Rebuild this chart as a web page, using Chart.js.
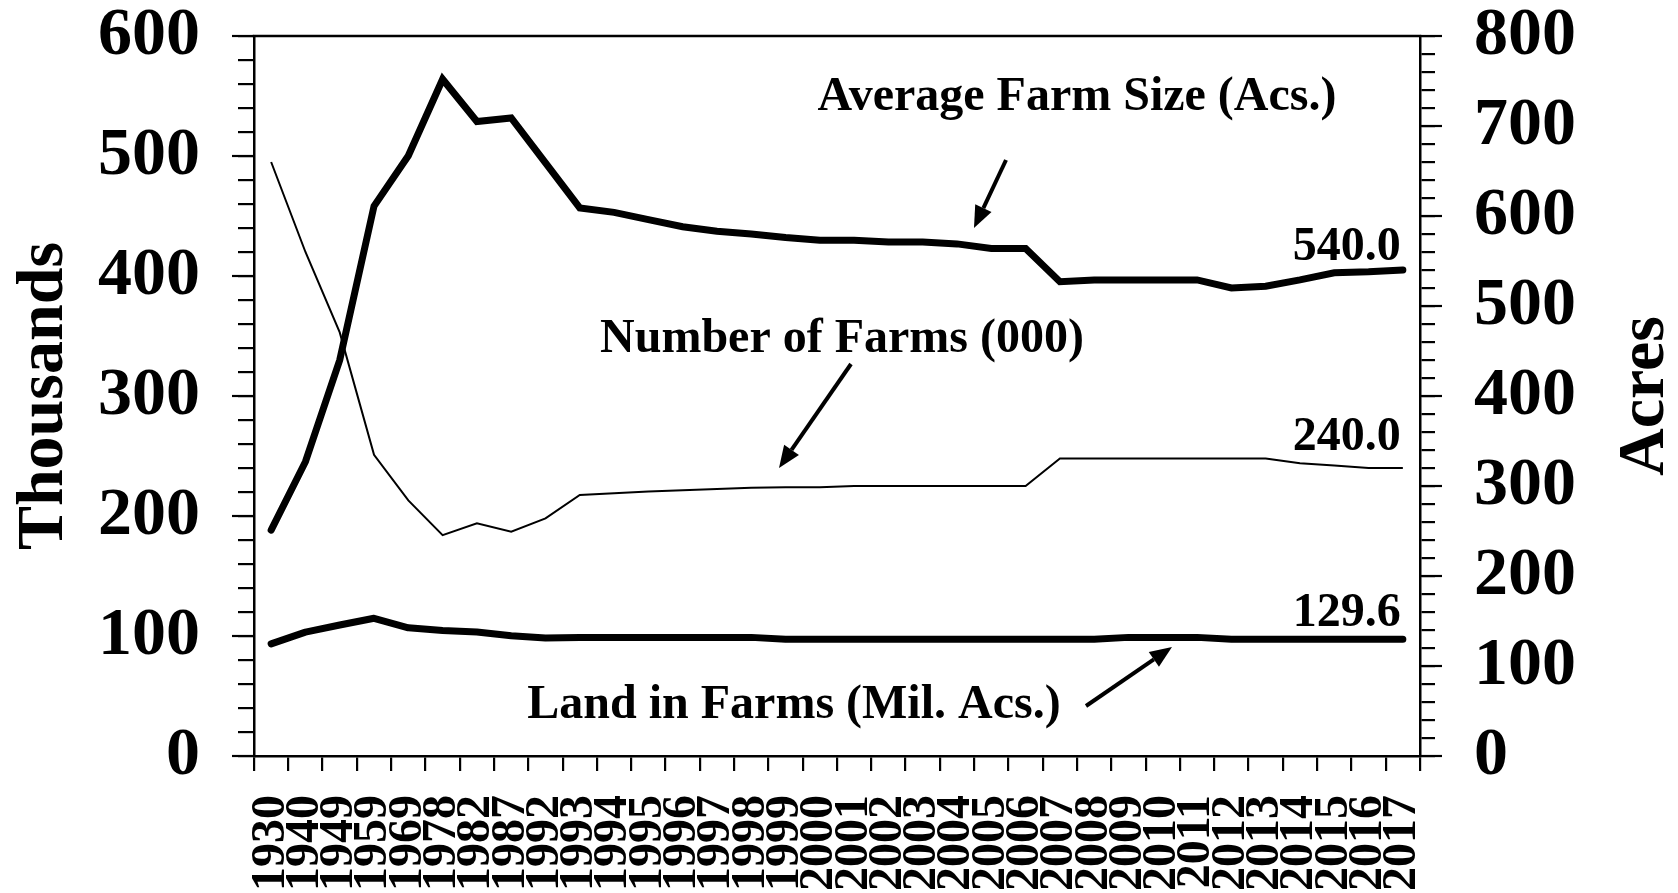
<!DOCTYPE html>
<html>
<head>
<meta charset="utf-8">
<script src="https://cdn.jsdelivr.net/npm/chart.js@4/dist/chart.umd.min.js"></script>
<style>
  html, body { margin: 0; padding: 0; background: #fff; }
  #wrap { width: 1678px; height: 893px; position: relative; }
</style>
</head>
<body>
<div id="wrap"><canvas id="c"></canvas></div>
<script>
// ---------------- data ----------------
const years = ['1930','1940','1949','1959','1969','1978','1982','1987','1992',
  '1993','1994','1995','1996','1997','1998','1999','2000','2001','2002','2003',
  '2004','2005','2006','2007','2008','2009','2010','2011','2012','2013','2014',
  '2015','2016','2017'];

// Average Farm Size (acres) - right axis
const avgFarmSize = [251, 327, 440, 611, 667, 752, 705, 709, 659,
  609, 604, 596, 588, 583, 580, 576, 573, 573, 571, 571,
  569, 564, 564, 527, 529, 529, 529, 529, 520, 522, 529,
  537, 538, 540];

// Number of Farms (000) - left axis
const numberOfFarms = [495, 420, 353, 251, 213, 184, 194, 187, 198,
  217.5, 219, 220.5, 221.5, 222.5, 223.5, 224, 224, 225, 225, 225,
  225, 225, 225, 248, 248, 248, 248, 248, 248, 248, 244,
  242, 240, 240];

// Land in Farms (Mil. Acs.) - right axis
const landInFarms = [124.6, 137.7, 145.5, 153, 142.4, 139.5, 137.7, 133.5, 131,
  131.8, 131.8, 131.8, 131.8, 131.8, 131.8, 129.6, 129.6, 129.6, 129.6, 129.6,
  129.6, 129.6, 129.6, 129.6, 129.6, 131.8, 131.8, 131.8, 129.6, 129.6, 129.6,
  129.6, 129.6, 129.6];

const leftAxisTitle = 'Thousands';
const rightAxisTitle = 'Acres';
const seriesNames = ['Average Farm Size (Acs.)', 'Number of Farms (000)', 'Land in Farms (Mil. Acs.)'];

// ---------------- styling / layout ----------------
const FONT = "'Liberation Serif', 'Times New Roman', Times, serif";
const AREA = { left: 254, right: 1420, top: 36, bottom: 756 };
const W = 1678, H = 893;

const textNotes = [
  { text: seriesNames[0], x: 1077, y: 98 },
  { text: seriesNames[1], x: 842, y: 340 },
  { text: seriesNames[2], x: 794, y: 706 }
];
const arrows = [
  { from: [1006, 160], to: [974, 228] },
  { from: [851, 364], to: [779, 468] },
  { from: [1086, 706], to: [1172, 647] }
];
const endLabelOffsets = [10, 18, 13]; // px above last point

Chart.defaults.font.family = FONT;
Chart.defaults.color = '#000';

const deco = {
  id: 'deco',
  afterDraw(chart) {
    const ctx = chart.ctx;
    const ca = chart.chartArea;
    const yL = chart.scales.yL, yR = chart.scales.yR;
    ctx.save();
    ctx.strokeStyle = '#000';
    ctx.fillStyle = '#000';
    ctx.lineCap = 'butt';
    // top frame
    ctx.lineWidth = 2.5;
    ctx.beginPath(); ctx.moveTo(ca.left - 1.25, ca.top); ctx.lineTo(ca.right + 1.25, ca.top); ctx.stroke();
    // major ticks (longer)
    ctx.lineWidth = 2.2;
    yL.ticks.forEach(t => {
      if (t.value % 100 === 0) {
        const y = yL.getPixelForValue(t.value);
        ctx.beginPath(); ctx.moveTo(ca.left - 22, y); ctx.lineTo(ca.left, y); ctx.stroke();
      }
    });
    yR.ticks.forEach(t => {
      if (t.value % 100 === 0) {
        const y = yR.getPixelForValue(t.value);
        ctx.beginPath(); ctx.moveTo(ca.right, y); ctx.lineTo(ca.right + 22, y); ctx.stroke();
      }
    });
    // axis titles (both read bottom-to-top)
    ctx.font = `bold 66px ${FONT}`;
    ctx.textAlign = 'center';
    ctx.textBaseline = 'alphabetic';
    const cy = (ca.top + ca.bottom) / 2;
    ctx.save(); ctx.translate(62, cy); ctx.rotate(-Math.PI / 2); ctx.fillText(leftAxisTitle, 0, 0); ctx.restore();
    ctx.save(); ctx.translate(1663, cy); ctx.rotate(-Math.PI / 2); ctx.fillText(rightAxisTitle, 0, 0); ctx.restore();
    // series notes
    ctx.font = `bold 48px ${FONT}`;
    ctx.textBaseline = 'middle';
    textNotes.forEach(n => ctx.fillText(n.text, n.x, n.y));
    // arrows
    ctx.lineWidth = 4;
    arrows.forEach(a => {
      const [x1, y1] = a.from, [x2, y2] = a.to;
      const ang = Math.atan2(y2 - y1, x2 - x1);
      const hl = 22, hw = 9;
      const bx = x2 - hl * Math.cos(ang), by = y2 - hl * Math.sin(ang);
      ctx.beginPath(); ctx.moveTo(x1, y1); ctx.lineTo(bx, by); ctx.stroke();
      ctx.beginPath();
      ctx.moveTo(x2, y2);
      ctx.lineTo(bx + hw * Math.sin(ang), by - hw * Math.cos(ang));
      ctx.lineTo(bx - hw * Math.sin(ang), by + hw * Math.cos(ang));
      ctx.closePath(); ctx.fill();
    });
    // end value labels
    ctx.textAlign = 'right';
    ctx.textBaseline = 'alphabetic';
    chart.data.datasets.forEach((ds, i) => {
      const meta = chart.getDatasetMeta(i);
      const last = meta.data[meta.data.length - 1];
      const v = ds.data[ds.data.length - 1];
      ctx.fillText(v.toFixed(1), last.x - 2, last.y - endLabelOffsets[i]);
    });
    ctx.restore();
  }
};

function fitY(width) {
  return function (s) { s.width = width; s.paddingTop = 0; s.paddingBottom = 0; };
}

new Chart(document.getElementById('c'), {
  type: 'line',
  data: {
    labels: years,
    datasets: [
      { label: seriesNames[0], data: avgFarmSize, yAxisID: 'yR', borderColor: '#000', borderWidth: 7,
        pointRadius: 0, tension: 0, borderCapStyle: 'round', borderJoinStyle: 'miter', fill: false },
      { label: seriesNames[1], data: numberOfFarms, yAxisID: 'yL', borderColor: '#000', borderWidth: 2,
        pointRadius: 0, tension: 0, borderCapStyle: 'butt', fill: false },
      { label: seriesNames[2], data: landInFarms, yAxisID: 'yR', borderColor: '#000', borderWidth: 7,
        pointRadius: 0, tension: 0, borderCapStyle: 'round', borderJoinStyle: 'round', fill: false }
    ]
  },
  options: {
    responsive: true,
    maintainAspectRatio: false,
    animation: false,
    devicePixelRatio: 1,
    layout: { padding: { top: AREA.top, left: 0, right: 0, bottom: 0 } },
    plugins: { legend: { display: false }, tooltip: { enabled: false }, title: { display: false } },
    scales: {
      x: {
        type: 'category',
        offset: true,
        grid: { display: true, drawOnChartArea: false, drawTicks: true, tickLength: 15, offset: true,
                color: '#000', lineWidth: 2.2 },
        border: { display: true, color: '#000', width: 2.5 },
        ticks: { autoSkip: false, minRotation: 90, maxRotation: 90, padding: 24, color: '#000',
                 font: { size: 48, weight: 'bold', family: FONT, lineHeight: 1 } },
        afterFit(s) { s.height = H - AREA.bottom; s.paddingLeft = 0; s.paddingRight = 0; }
      },
      yL: {
        type: 'linear', position: 'left', min: 0, max: 600,
        grid: { display: true, drawOnChartArea: false, drawTicks: true, tickLength: 16, color: '#000', lineWidth: 2.2 },
        border: { display: true, color: '#000', width: 2.5 },
        ticks: { stepSize: 20, autoSkip: false, padding: 38, color: '#000',
                 font: { size: 68, weight: 'bold', family: FONT, lineHeight: 1 },
                 callback: v => (v % 100 === 0 ? String(v) : '') },
        afterFit: fitY(AREA.left)
      },
      yR: {
        type: 'linear', position: 'right', min: 0, max: 800,
        grid: { display: true, drawOnChartArea: false, drawTicks: true, tickLength: 15, color: '#000', lineWidth: 2.2 },
        border: { display: true, color: '#000', width: 2.5 },
        ticks: { stepSize: 20, autoSkip: false, padding: 39, color: '#000',
                 font: { size: 68, weight: 'bold', family: FONT, lineHeight: 1 },
                 callback: v => (v % 100 === 0 ? String(v) : '') },
        afterFit: fitY(W - AREA.right)
      }
    }
  },
  plugins: [deco]
});
</script>
</body>
</html>
